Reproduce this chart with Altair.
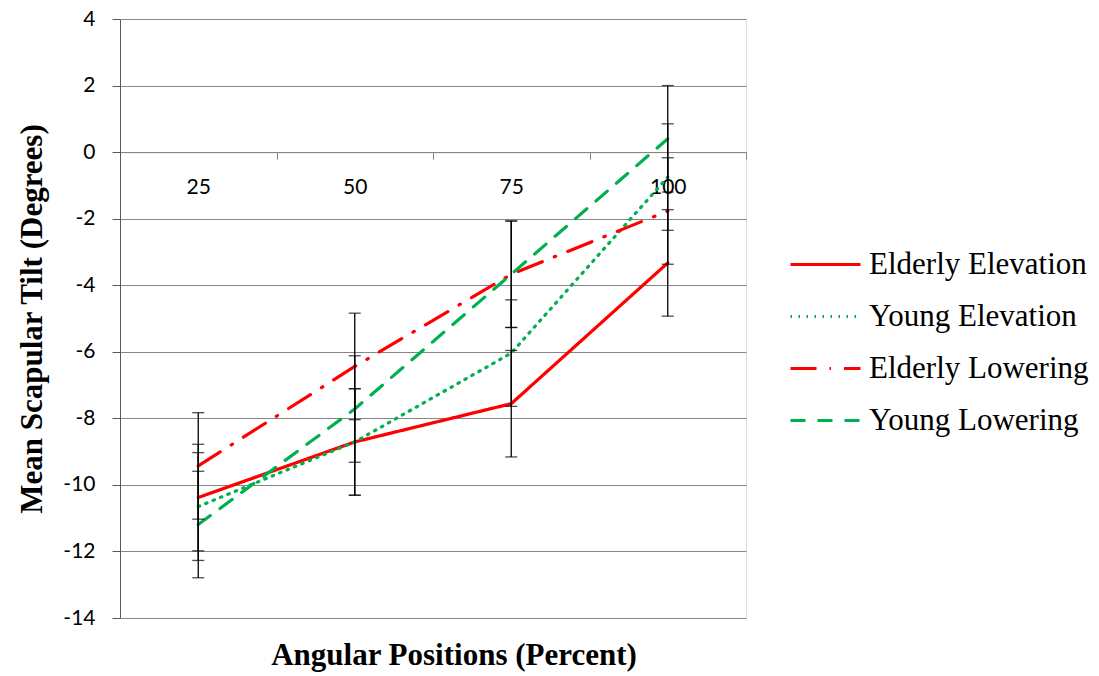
import altair as alt
import pandas as pd

positions = ["25", "50", "75", "100"]
series = ["Elderly Elevation", "Young Elevation", "Elderly Lowering", "Young Lowering"]
elderly_elevation = [-10.38, -8.71, -7.56, -3.33]
young_elevation = [-10.65, -8.71, -6.04, -0.75]
elderly_lowering = [-9.43, -6.44, -3.67, -1.77]
young_lowering = [-11.19, -7.72, -3.67, 0.40]
err_elderly_elevation = [1.6, 1.6, 1.6, 1.6]
err_young_elevation = [1.62, 1.6, 1.6, 1.6]
err_elderly_lowering = [1.6, 1.6, 1.6, 1.6]
err_young_lowering = [1.6, 1.6, 1.6, 1.6]
y_ticks = [-14, -12, -10, -8, -6, -4, -2, 0, 2, 4]

colors = ["#FF0000", "#00B050", "#FF0000", "#00B050"]
dashes = [[1, 0], [1.5, 6.5], [26, 13, 1.5, 13], [15, 12]]

vals = [elderly_elevation, young_elevation, elderly_lowering, young_lowering]
errs = [err_elderly_elevation, err_young_elevation, err_elderly_lowering, err_young_lowering]
rows = []
for s, v, e in zip(series, vals, errs):
    for p, vv, ee in zip(positions, v, e):
        rows.append({"pos": p, "series": s, "value": vv, "lo": vv - ee, "hi": vv + ee})
df = pd.DataFrame(rows)

W, H = 626, 599

x_axis = alt.Axis(
    orient="bottom", offset=-H * 14 / 18, tickBand="extent",
    labelAngle=0, labelFont="Lato", labelFontSize=21, labelColor="black",
    labelPadding=17, tickSize=7, tickColor="#868686", domainColor="#868686",
    domainWidth=1, grid=False, title=None,
)
x_scale = alt.Scale(type="band", paddingInner=0, paddingOuter=0)

def xenc(band=True):
    if band:
        return alt.X("pos:O", sort=positions, scale=x_scale, axis=x_axis, bandPosition=0.5)
    return alt.X("pos:O", sort=positions, scale=x_scale, axis=x_axis)

y_scale = alt.Scale(domain=[-14, 4], nice=False, zero=False)
y_axis = alt.Axis(
    values=y_ticks, labelExpr="'' + datum.value", labelFont="Lato", labelFontSize=21,
    labelColor="black", labelPadding=17, tickSize=8, tickColor="#595959",
    domainColor="#595959", grid=True, gridColor="#868686", gridWidth=1,
    title="Mean Scapular Tilt (Degrees)", titleFont="Liberation Serif",
    titleFontSize=31, titleFontWeight="bold", titleColor="black", titlePadding=14,
)

legend = alt.Legend(
    title=None, orient="none", legendX=669, legendY=209, symbolType="stroke",
    symbolSize=4900, symbolStrokeWidth=3, labelFont="Liberation Serif",
    labelFontSize=31, labelColor="black", labelLimit=0, rowPadding=-2,
    symbolOffset=0, labelOffset=7,
)

base = alt.Chart(df)

lines = base.mark_line(strokeCap="round", strokeWidth=3.2).encode(
    x=xenc(),
    y=alt.Y("value:Q", scale=y_scale, axis=y_axis),
    color=alt.Color("series:N", sort=series, scale=alt.Scale(domain=series, range=colors), legend=legend),
    strokeDash=alt.StrokeDash("series:N", sort=series, scale=alt.Scale(domain=series, range=dashes), legend=legend),
)

rules = base.mark_rule(color="black", strokeWidth=1.3).encode(
    x=xenc(), y=alt.Y("lo:Q", scale=y_scale, axis=y_axis), y2="hi:Q"
)
cap_lo = base.mark_tick(color="black", thickness=1.3, size=12).encode(
    x=xenc(False), y=alt.Y("lo:Q", scale=y_scale, axis=y_axis)
)
cap_hi = base.mark_tick(color="black", thickness=1.3, size=12).encode(
    x=xenc(False), y=alt.Y("hi:Q", scale=y_scale, axis=y_axis)
)

chart = alt.layer(lines, rules, cap_lo, cap_hi).properties(
    width=W, height=H,
    autosize=alt.AutoSizeParams(type="none"),
    padding={"left": 120, "top": 19, "right": 1099 - 120 - W, "bottom": 676 - 19 - H},
    title=alt.TitleParams(
        "Angular Positions (Percent)", orient="bottom", anchor="middle", frame="group",
        font="Liberation Serif", fontSize=31, fontWeight="bold", color="black",
        dx=21, offset=13,
    ),
).configure_view(stroke=None).configure(background="white")

chart.save("out.html", embed_options={"renderer": "svg", "actions": False})
